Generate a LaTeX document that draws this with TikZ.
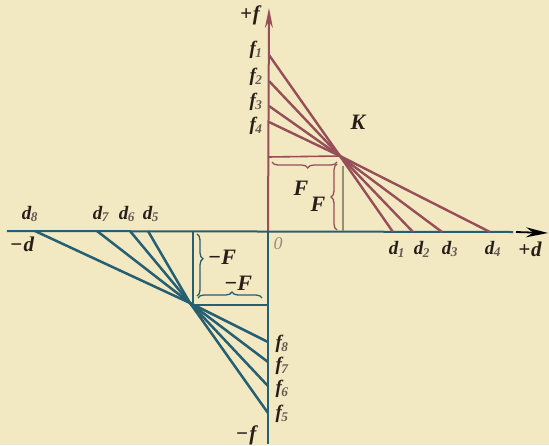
\documentclass[tikz,border=0pt]{standalone}
\usepackage{fontspec}
\setmainfont{Liberation Serif}
\usetikzlibrary{arrows.meta,decorations.pathreplacing}
\definecolor{bgc}{RGB}{242,233,194}
\definecolor{mar}{RGB}{150,78,88}
\definecolor{tea}{RGB}{38,94,114}
\definecolor{gln}{RGB}{150,140,125}
\definecolor{txt}{RGB}{40,30,25}
\definecolor{subc}{RGB}{100,90,85}
\newcommand{\lbl}[2]{#1\textsubscript{\kern-0.5pt\textcolor{subc}{#2}}}
\begin{document}
\begin{tikzpicture}[x=1pt,y=-1pt,
  lab/.style={font=\fontsize{19}{20}\selectfont\bfseries\itshape, text=txt, inner sep=0pt},
  sgn/.style={font=\fontsize{21}{22}\selectfont\bfseries\itshape, text=txt, inner sep=0pt},
  big/.style={font=\fontsize{22}{23}\selectfont\bfseries\itshape, text=txt, inner sep=0pt},
  zero/.style={font=\fontsize{18}{19}\selectfont\itshape, text=gln, inner sep=0pt},
  rayr/.style={draw=mar, line width=2.4pt, line join=round},
  rayt/.style={draw=tea, line width=2.5pt, line join=round},
  axr/.style={draw=mar, line width=2pt},
  axt/.style={draw=tea, line width=2pt},
  thinr/.style={draw=mar, line width=1.6pt},
  thint/.style={draw=tea, line width=1.6pt},
  bracer/.style={draw=mar, line width=1.3pt, decorate, decoration={brace, amplitude=6pt, #1}},
  bracet/.style={draw=tea, line width=1.3pt, decorate, decoration={brace, amplitude=6pt, #1}},
]
\fill[bgc] (0,0) rectangle (549,445);
\useasboundingbox (0,0) rectangle (549,445);

% axes coordinates
\coordinate (O) at (268,231);
\coordinate (ytop) at (269,8);
\coordinate (ybot) at (268,444);
\coordinate (xleft) at (7,231);
\coordinate (xend) at (513,232);
\coordinate (xarr0) at (516,232);
\coordinate (xarr1) at (548,233);

% convergence points
\coordinate (K) at (340,156);
\coordinate (Kb) at (190,303);

% upper f points and d points
\coordinate (f1) at (269,55);
\coordinate (f2) at (269,81);
\coordinate (f3) at (269,106);
\coordinate (f4) at (269,122);
\coordinate (d1) at (393,232);
\coordinate (d2) at (413,232);
\coordinate (d3) at (442,232);
\coordinate (d4) at (490,232);
% lower
\coordinate (d5) at (148,231);
\coordinate (d6) at (130,231);
\coordinate (d7) at (97,231);
\coordinate (d8) at (35,231);
\coordinate (f5) at (268,413);
\coordinate (f6) at (268,386);
\coordinate (f7) at (268,362);
\coordinate (f8) at (268,342);

% axes
\draw[axt] (xleft) -- (xend);
\draw[black, line width=1.8pt, -{Stealth[length=22pt,width=10pt]}] (xarr0) -- (xarr1);
\draw[axr, -{Stealth[length=20pt,width=8pt]}] (O) -- (ytop);
\draw[axt] (O) -- (ybot);

% rays upper
\draw[rayr] (f1) -- (K) -- (d1);
\draw[rayr] (f2) -- (K) -- (d2);
\draw[rayr] (f3) -- (K) -- (d3);
\draw[rayr] (f4) -- (K) -- (d4);
% rays lower
\draw[rayt] (d5) -- (Kb) -- (f5);
\draw[rayt] (d6) -- (Kb) -- (f6);
\draw[rayt] (d7) -- (Kb) -- (f7);
\draw[rayt] (d8) -- (Kb) -- (f8);

% upper construction
\coordinate (Kh) at (268,157);
\coordinate (Kv0) at (343,166);
\coordinate (Kv1) at (343,231);
\draw[thinr] (Kh) -- (K);
\draw[draw=gln, line width=1.3pt] (Kv0) -- (Kv1);
\coordinate (ubh0) at (272,162);
\coordinate (ubh1) at (337,162);
\coordinate (ubv0) at (337,230);
\coordinate (ubv1) at (337,164);
\draw[bracer={mirror, aspect=0.55}] (ubh0) -- (ubh1);
\draw[bracer={aspect=0.5}] (ubv0) -- (ubv1);

% lower construction
\coordinate (Lv0) at (193,232);
\coordinate (Lv1) at (193,303);
\coordinate (Lh0) at (195,305);
\coordinate (Lh1) at (268,305);
\draw[thint] (Lv0) -- (Lv1);
\draw[thint] (Lh0) -- (Lh1);
\coordinate (lbv0) at (197,234);
\coordinate (lbv1) at (197,296);
\coordinate (lbh0) at (198,298);
\coordinate (lbh1) at (262,298);
\draw[bracet={aspect=0.4}] (lbv0) -- (lbv1);
\draw[bracet={aspect=0.53}] (lbh0) -- (lbh1);

% labels
\node[sgn] (lpf) at (250,15) {+\kern1pt f};
\node[lab] (lf1) at (256,50) {\lbl{f}{1}};
\node[lab] (lf2) at (256,77) {\lbl{f}{2}};
\node[lab] (lf3) at (256,102) {\lbl{f}{3}};
\node[lab] (lf4) at (256,126) {\lbl{f}{4}};
\node[big] (lK) at (358,122) {K};
\node[big] (lF1) at (301,188) {F};
\node[big] (lF2) at (318,204) {F};
\node[lab] (ld1) at (397,249) {\lbl{d}{1}};
\node[lab] (ld2) at (422,249) {\lbl{d}{2}};
\node[lab] (ld3) at (450,249) {\lbl{d}{3}};
\node[lab] (ld4) at (493,249) {\lbl{d}{4}};
\node[sgn] (lpd) at (530,249) {+\kern1pt d};
\node[lab] (ld8) at (30,214) {\lbl{d}{8}};
\node[lab] (ld7) at (101,214) {\lbl{d}{7}};
\node[lab] (ld6) at (127,214) {\lbl{d}{6}};
\node[lab] (ld5) at (151,214) {\lbl{d}{5}};
\node[sgn] (lmd) at (22,244) {\textminus\kern1pt d};
\node[zero] (l0) at (278,244) {0};
\node[big] (lmF1) at (222,257) {\textminus F};
\node[big] (lmF2) at (238,283) {\textminus F};
\node[lab] (lf8) at (282,344) {\lbl{f}{8}};
\node[lab] (lf7) at (282,366) {\lbl{f}{7}};
\node[lab] (lf6) at (282,389) {\lbl{f}{6}};
\node[lab] (lf5) at (282,414) {\lbl{f}{5}};
\node[sgn] (lmf) at (246,435) {\textminus\kern1pt f};
\end{tikzpicture}
\end{document}
